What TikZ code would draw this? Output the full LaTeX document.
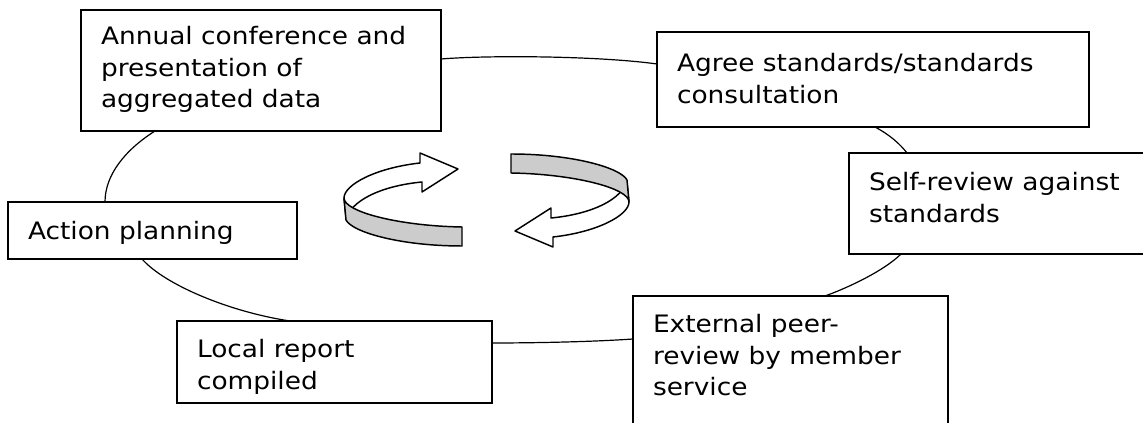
\documentclass[tikz,border=0pt]{standalone}
\usepackage{fontspec}
\setmainfont[FakeStretch=1.1]{DejaVu Sans}
\usetikzlibrary{calc}
\newdimen\pxu \pxu=0.75pt
\newcommand{\boxtext}[4]{%
  \parbox[t][#2\pxu][t]{#1\pxu}{\raggedright\leftskip=20\pxu\baselineskip=31.5\pxu\rule{0pt}{#3\pxu}#4}}
\newcommand{\ribbonarrow}{%
  \draw[ribbon, fill=white] (344,198) .. controls (344,185) and (375,168) .. (420,163)
    -- (420,153) -- (458,169) -- (422,192) -- (422,182)
    .. controls (390,185) and (355,196) .. (346,218) -- cycle;
  \draw[ribbon, fill=black!20] (344,198) .. controls (344,212) and (400,226) .. (462,227)
    -- (462,246) .. controls (400,246) and (352,232) .. (346,220) -- cycle;
}
\tikzset{
  stagebox/.style={draw, line width=1.5pt, inner sep=0pt, outer sep=0pt, anchor=north west, fill=white,
    font=\fontsize{18pt}{23.6pt}\selectfont},
  link/.style={line width=0.9pt},
  ribbon/.style={line width=1.1pt, line join=round}
}
\begin{document}
\begin{tikzpicture}[x=0.75pt,y=-0.75pt]
\useasboundingbox (0,0) rectangle (1143,423);
\clip (0,0) rectangle (1143,423);
% boxes
\node[stagebox] (b1) at (81,10)  {\boxtext{360}{121}{35}{Annual conference and\\presentation of\\aggregated data}};
\node[stagebox] (b2) at (657,32) {\boxtext{432}{95}{40}{Agree standards/standards\\consultation}};
\node[stagebox] (b3) at (849,153) {\boxtext{300}{101}{38}{Self-review against\\standards}};
\node[stagebox] (b4) at (633,296) {\boxtext{315}{140}{37}{External peer-\\review by member\\service}};
\node[stagebox] (b5) at (177,321) {\boxtext{315}{82}{37}{Local report\\compiled}};
\node[stagebox] (b6) at (8,202)   {\boxtext{289}{57}{38}{Action planning}};
% connectors
\draw[link] ($(b1.north east)+(0,49)$) .. controls (490,55) and (600,56) .. ($(b2.north west)+(0,32)$);
\draw[link] ($(b2.south west)+(218,0)$) .. controls (890,135) and (900,144) .. ($(b3.north west)+(58,0)$);
\draw[link] ($(b3.south west)+(52,0)$) .. controls (885,270) and (850,287) .. ($(b4.north west)+(192,0)$);
\draw[link] ($(b4.north west)+(0,43)$) .. controls (590,342) and (530,343) .. ($(b5.north east)+(0,22)$);
\draw[link] ($(b6.south west)+(134,0)$) .. controls (165,285) and (230,312) .. ($(b5.north west)+(113,0)$);
\draw[link] ($(b1.south west)+(74,0)$) .. controls (125,150) and (105,175) .. ($(b6.north west)+(97,0)$);
% circular arrows
\ribbonarrow
\begin{scope}[rotate around={180:(486.5,200)}]
\ribbonarrow
\end{scope}
\end{tikzpicture}
\end{document}
